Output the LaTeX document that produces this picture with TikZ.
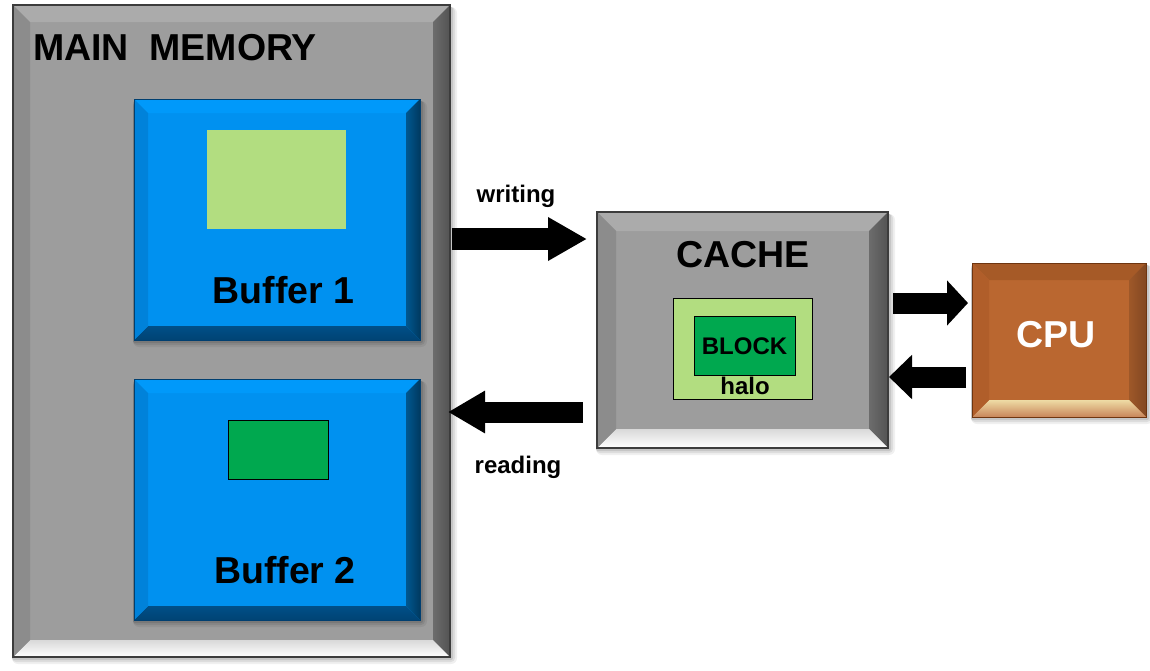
\documentclass[tikz,border=0pt]{standalone}
\usepackage{fontspec}
\setmainfont{Liberation Sans}
\usetikzlibrary{arrows.meta,backgrounds,calc}
\definecolor{gface}{HTML}{9D9D9D}
\definecolor{gtop}{HTML}{ABABAB}
\definecolor{gleft}{HTML}{8C8C8C}
\definecolor{gborder}{HTML}{3C3C3C}
\definecolor{bface}{HTML}{0091F0}
\definecolor{btop}{HTML}{0099FA}
\definecolor{bleft}{HTML}{0082DA}
\definecolor{bbot}{HTML}{004F88}
\definecolor{bborder}{HTML}{003F70}
\definecolor{cface}{HTML}{BA6730}
\definecolor{ctop}{HTML}{A65A27}
\definecolor{cleft}{HTML}{B05E2A}
\definecolor{cborder}{HTML}{6E3510}
\definecolor{lgreen}{HTML}{B2DD80}
\definecolor{dgreen}{HTML}{00A84F}
\newcommand\bevelbox[8]{%
  \foreach \s/\o in {6/0.06,4/0.08,2/0.1}{
    \fill[black,opacity=\o,rounded corners=\s pt] ([xshift=-1pt,yshift=-\s pt-1pt]#1.south west) rectangle ([xshift=\s pt+1pt,yshift=-2pt]#1.north east);}
  \fill[#3] (#1.south west) rectangle (#1.north east);
  \fill[#4] (#1.north west) -- (#1.north east) -- ([xshift=-#2,yshift=-#2]#1.north east) -- ([xshift=#2,yshift=-#2]#1.north west) -- cycle;
  \shade[#5] (#1.north east) -- (#1.south east) -- ([xshift=-#2,yshift=#2]#1.south east) -- ([xshift=-#2,yshift=-#2]#1.north east) -- cycle;
  \shade[#6] (#1.south east) -- (#1.south west) -- ([xshift=#2,yshift=#2]#1.south west) -- ([xshift=-#2,yshift=#2]#1.south east) -- cycle;
  \fill[#7] (#1.south west) -- (#1.north west) -- ([xshift=#2,yshift=-#2]#1.north west) -- ([xshift=#2,yshift=#2]#1.south west) -- cycle;
  \draw[#8] (#1.south west) rectangle (#1.north east);
}
\tikzset{
  box/.style={rectangle,inner sep=0pt,outer sep=0pt,minimum width=#1},
  boxh/.style={minimum height=#1},
  patch/.style={rectangle,inner sep=0pt,outer sep=0pt,draw=black,line width=1pt},
  big/.style={font=\fontsize{37.5}{40}\selectfont\bfseries,inner sep=0pt,anchor=base},
  small/.style={font=\fontsize{24}{28}\selectfont\bfseries,inner sep=0pt,anchor=base},
  barrow/.style={draw=black,line width=#1}
}
\begin{document}
\begin{tikzpicture}[x=1pt,y=-1pt]
\useasboundingbox (0,0) rectangle (1150,670);
% boxes
\node[box=437pt,boxh=652pt] (mm) at (231.5,331) {};
\node[box=286pt,boxh=241pt] (buf1) at (277,219.5) {};
\node[box=286pt,boxh=241pt] (buf2) at (277,499.5) {};
\node[box=291pt,boxh=236pt] (cache) at (742.5,330) {};
\node[box=174pt,boxh=154pt] (cpu) at (1059,340) {};
\begin{pgfonlayer}{background}
\bevelbox{mm}{17pt}{gface}{gtop}{left color=gray!85!black,right color=gray!65!black}{top color=gray!30,bottom color=white}{gleft}{gborder,line width=1.5pt}
\bevelbox{buf1}{14pt}{bface}{btop}{left color=bface!60!black,right color=bface!40!black}{top color=bbot,bottom color=bbot!85!black}{bleft}{bborder,line width=0.8pt}
\bevelbox{buf2}{14pt}{bface}{btop}{left color=bface!60!black,right color=bface!40!black}{top color=bbot,bottom color=bbot!85!black}{bleft}{bborder,line width=0.8pt}
\bevelbox{cache}{19pt}{gface}{gtop}{left color=gray!85!black,right color=gray!65!black}{top color=gray!30,bottom color=white}{gleft}{gborder,line width=1.5pt}
\bevelbox{cpu}{17pt}{cface}{ctop}{left color=cface!85!black,right color=cface!70!black}{top color=cface!60!yellow!40!white,bottom color=cface!80!white}{cleft}{cborder,line width=1pt}
\end{pgfonlayer}
% inner patches
\node[patch,draw=none,fill=lgreen,minimum width=139pt,minimum height=99pt] (lg1) at (276.5,179.5) {};
\node[patch,fill=dgreen,minimum width=100pt,minimum height=59pt] (dg2) at (278,449.5) {};
\node[patch,fill=lgreen,minimum width=139pt,minimum height=101pt] (halo) at (742.5,348.5) {};
\node[patch,fill=dgreen,minimum width=101pt,minimum height=59pt] (block) at (744.5,345.5) {};
% texts
\node[big,anchor=base west] (mmt) at (33,60) {MAIN\hspace{0.55em}MEMORY};
\node[big] (b1t) at (283.5,303) {Buffer 1};
\node[big] (b2t) at (285,583) {Buffer 2};
\node[big] (cat) at (743,267) {CACHE};
\node[big,text=white] (cput) at (1056,347) {CPU};
\node[small] (blt) at (744.5,354) {BLOCK};
\node[small] (hat) at (745,394) {halo};
\node[small] (wt) at (516,202) {writing};
\node[small] (rt) at (518,473) {reading};
% arrows
\draw[barrow=22pt,-{Triangle[width=41pt,length=39pt]},shorten <=2pt,shorten >=10pt] (mm.east |- 0,239) -- (cache.west |- 0,239);
\draw[barrow=21pt,-{Triangle[width=40pt,length=37pt]},shorten <=14pt,shorten >=-2pt] (cache.west |- 0,412) -- (mm.east |- 0,412);
\draw[barrow=21pt,-{Triangle[width=44pt,length=21pt]},shorten <=5pt,shorten >=4pt] (cache.east |- 0,303) -- (cpu.west |- 0,303);
\draw[barrow=21pt,-{Triangle[width=43pt,length=23pt]},shorten <=6pt,shorten >=1pt] (cpu.west |- 0,377) -- (cache.east |- 0,377);
\end{tikzpicture}
\end{document}
